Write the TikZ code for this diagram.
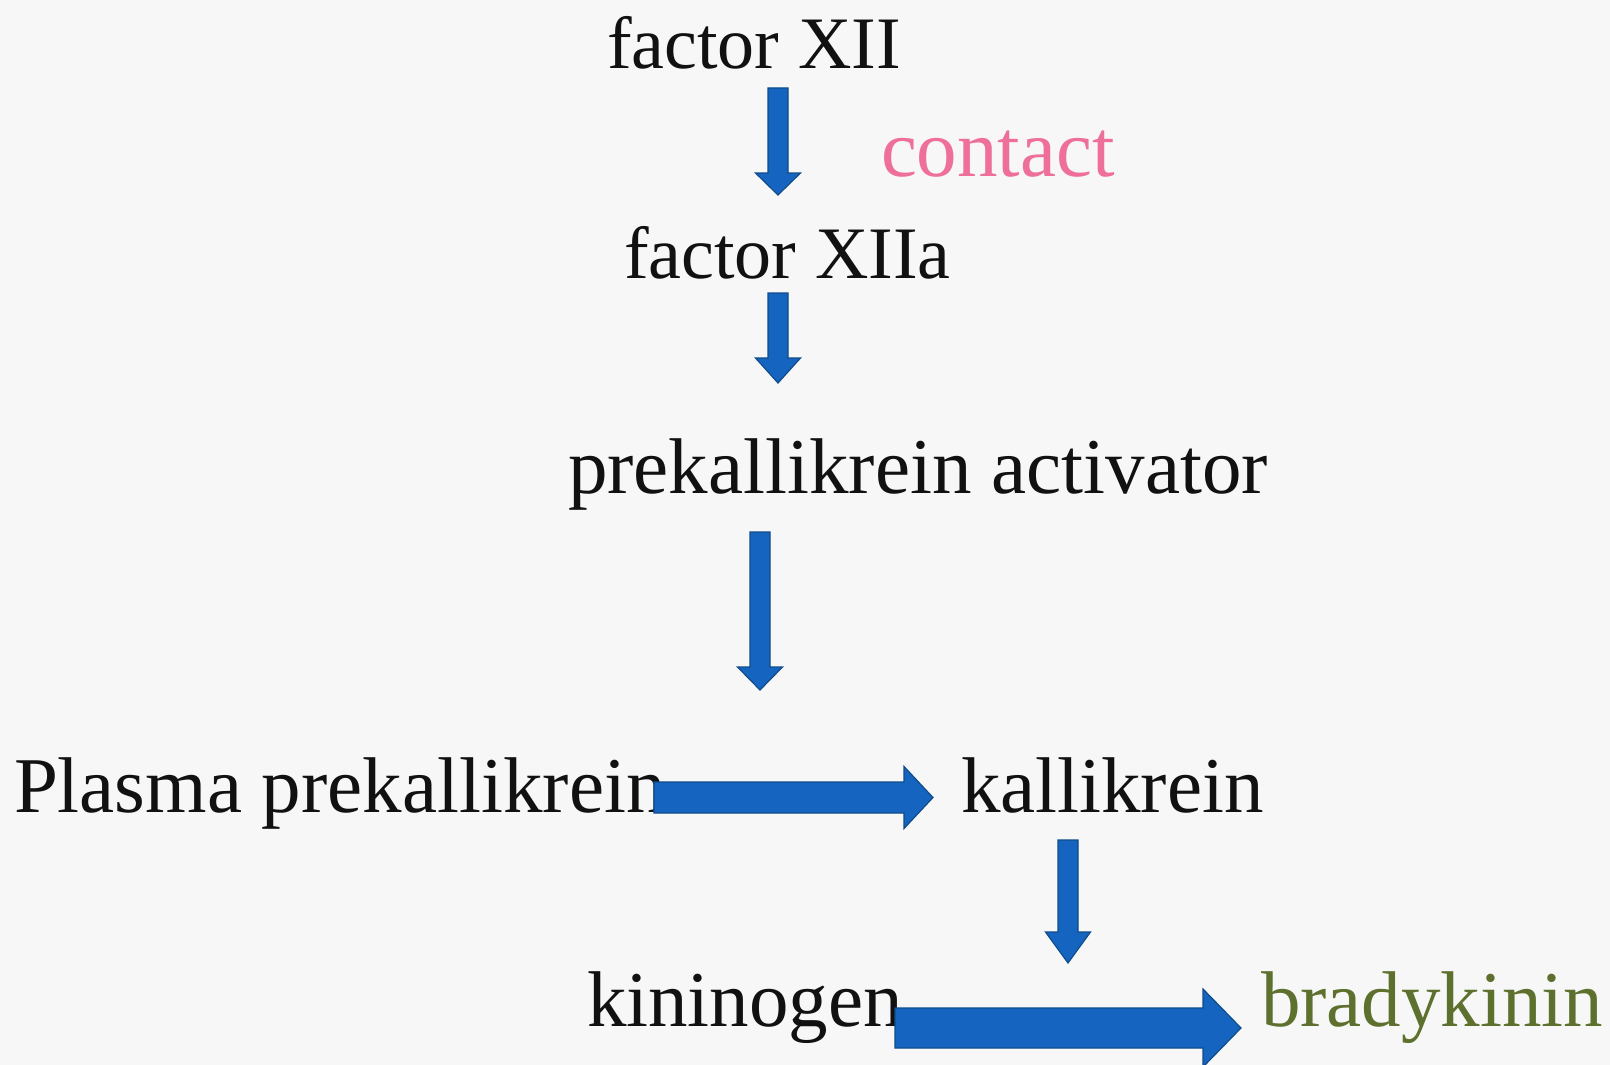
\documentclass[tikz,border=0pt]{standalone}
\usepackage{fontspec}
\setmainfont{Liberation Serif}
\usetikzlibrary{calc}
\definecolor{bgc}{HTML}{F7F7F7}
\definecolor{arrowblue}{HTML}{1565C0}
\definecolor{arrowdark}{HTML}{0F4C8A}
\definecolor{pinkc}{HTML}{EE6F9A}
\definecolor{greenc}{HTML}{5E702D}
\definecolor{textc}{HTML}{111111}
\tikzset{
  lbl/.style={anchor=base west, inner sep=0pt, outer sep=0pt, text=textc,
    font=\fontsize{79}{90}\selectfont},
  lblsmall/.style={lbl, font=\fontsize{74}{86}\selectfont},
  lblcontact/.style={lbl, text=pinkc, font=\fontsize{81}{92}\selectfont},
  fat/.style={draw=arrowdark, line width=1.2pt, fill=arrowblue, line join=miter},
}
\newcommand\fatdown[5]{%
  \draw[fat] ($(#1)+(-#3,0)$) -- ($(#1)+(#3,0)$) -- ($(#2)+(#3,-#5)$) -- ($(#2)+(#4,-#5)$)
    -- (#2) -- ($(#2)+(-#4,-#5)$) -- ($(#2)+(-#3,-#5)$) -- cycle;}
\newcommand\fatright[5]{%
  \draw[fat] ($(#1)+(0,-#3)$) -- ($(#2)+(-#5,-#3)$) -- ($(#2)+(-#5,-#4)$) -- (#2)
    -- ($(#2)+(-#5,#4)$) -- ($(#2)+(-#5,#3)$) -- ($(#1)+(0,#3)$) -- cycle;}
\begin{document}
\begin{tikzpicture}[x=1pt,y=-1pt]
  \fill[bgc] (0,0) rectangle (1610,1065);
  \useasboundingbox (0,0) rectangle (1610,1065);

  \node[lblsmall] (f12)  at (607,69)  {factor XII};
  \node[lblcontact] (contact) at (881,176) {contact};
  \node[lblsmall] (f12a) at (624,278) {factor XIIa};
  \node[lbl] (pka)  at (568,493)  {prekallikrein activator};
  \node[lbl] (ppk)  at (14,812)   {Plasma prekallikrein};
  \node[lbl] (kal)  at (961,812)  {kallikrein};
  \node[lbl] (kin)  at (587,1026) {kininogen};
  \node[lbl, text=greenc] (bra) at (1261,1026) {bradykinin};

  \coordinate (a1s) at (778,88);   \coordinate (a1e) at (778,195);
  \coordinate (a2s) at (778,293);  \coordinate (a2e) at (778,383);
  \coordinate (a3s) at (760,532);  \coordinate (a3e) at (760,690);
  \coordinate (a4s) at (654,797.5);\coordinate (a4e) at (933,797.5);
  \coordinate (a5s) at (1068,840); \coordinate (a5e) at (1068,963);
  \coordinate (a6s) at (895,1028); \coordinate (a6e) at (1241,1028);

  \fatdown{a1s}{a1e}{10}{22.5}{22}
  \fatdown{a2s}{a2e}{10}{22.5}{25}
  \fatdown{a3s}{a3e}{10}{22.5}{23}
  \fatright{a4s}{a4e}{15.5}{31}{29}
  \fatdown{a5s}{a5e}{10}{22.5}{31}
  \fatright{a6s}{a6e}{20}{39}{38}
\end{tikzpicture}
\end{document}
